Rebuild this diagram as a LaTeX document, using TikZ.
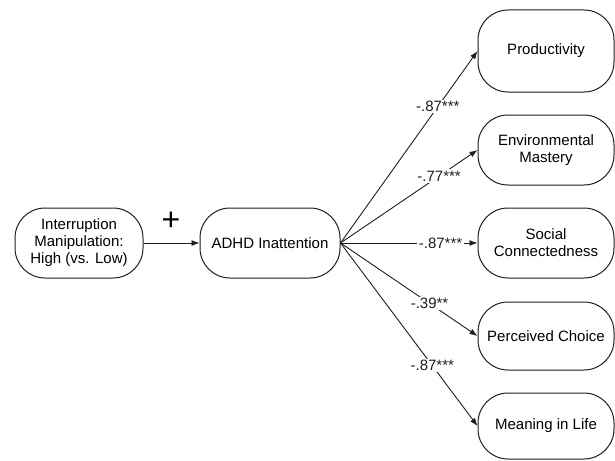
\documentclass[tikz,border=0pt]{standalone}
\usepackage{fontspec}
\setmainfont{Liberation Sans}
\usepackage{tikz}
\usetikzlibrary{arrows.meta, positioning}
\definecolor{boxline}{RGB}{30, 30, 30}

\begin{document}
\begin{tikzpicture}[
    x=1pt, y=-1pt,
    varbox/.style={rectangle, rounded corners=30pt, draw=boxline, line width=1pt, fill=white, minimum height=70pt, font=\fontsize{15}{17}\selectfont, align=center, inner sep=2pt},
    outbox/.style={varbox, minimum width=136pt},
    coef/.style={fill=white, inner sep=1.5pt, font=\fontsize{15}{17}\selectfont},
    arr/.style={-{Latex[length=8pt, width=6pt]}, line width=0.9pt, boxline}
]
\useasboundingbox (0,0) rectangle (615,460);

% ── Predictor and mediator ──
\node[varbox, minimum width=128pt] (iv) at (79, 243) {Interruption\\Manipulation:\\High (vs. Low)};
\node[varbox, minimum width=140pt] (adhd) at (270, 243) {ADHD Inattention};
\draw[arr] (iv) -- (adhd);
\node[font=\fontsize{32}{32}\selectfont] (plus) at (171, 221) {+};

% ── Outcomes ──
\node[outbox, minimum height=82pt] (prod) at (546, 51) {Productivity};
\node[outbox] (envm) at (546, 150) {Environmental\\Mastery};
\node[outbox] (socc) at (546, 243) {Social\\Connectedness};
\node[outbox, minimum height=68pt] (perc) at (546, 336) {Perceived Choice};
\node[outbox, minimum height=66pt] (mean) at (546, 426) {Meaning in Life};

% ── Paths ──
\draw[arr] (adhd.east) -- node[coef, pos=0.71] {-.87***} (prod.west);
\draw[arr] (adhd.east) -- node[coef, pos=0.72] {-.77***} (envm.west);
\draw[arr] (adhd.east) -- node[coef, pos=0.73] {-.87***} (socc.west);
\draw[arr] (adhd.east) -- node[coef, pos=0.65] {-.39**} (perc.west);
\draw[arr] (adhd.east) -- node[coef, pos=0.67] {-.87***} (mean.west);

\end{tikzpicture}
\end{document}
